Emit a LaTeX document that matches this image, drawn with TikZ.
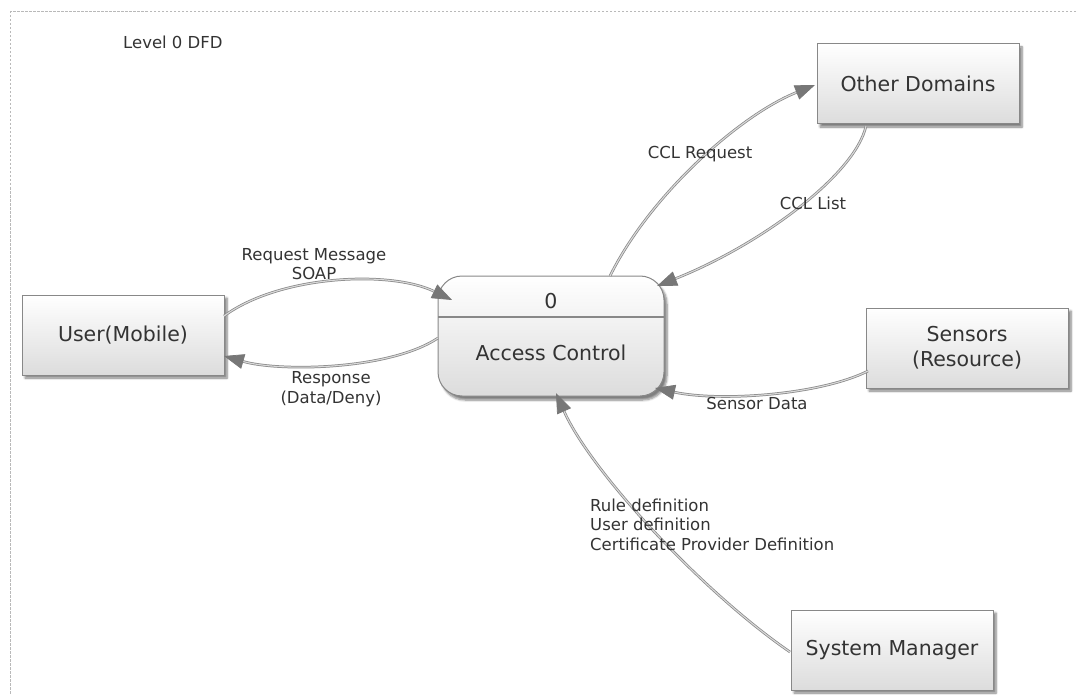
\documentclass[tikz,border=0pt]{standalone}
\usepackage{fontspec}
\setmainfont{DejaVu Sans}
\usetikzlibrary{arrows.meta,calc,shadows.blur}
\definecolor{txt}{HTML}{333333}
\definecolor{edge}{HTML}{888888}
\definecolor{tip}{HTML}{777777}
\definecolor{boxbot}{HTML}{DCDCDC}
\begin{document}
\begin{tikzpicture}[x=1pt,y=-1pt,
  entity/.style={draw=edge, line width=1pt, minimum width=202pt, minimum height=80pt,
    top color=white, bottom color=boxbot, text=txt, font=\fontsize{20.5}{25}\selectfont, align=center,
    blur shadow={shadow xshift=3pt, shadow yshift=-3pt, shadow blur steps=6, shadow opacity=50}},
  proc/.style={draw=edge, line width=1pt, rounded corners=24pt, minimum width=226pt, minimum height=120pt,
    top color=white, bottom color=boxbot,
    blur shadow={shadow xshift=3pt, shadow yshift=-4pt, shadow blur steps=6, shadow opacity=50}},
  flow/.style={draw=edge, line width=0.75pt, double=gray!30, double distance=1.1pt,
    -{Triangle[length=20pt,width=15pt,color=tip]}},
  lbl/.style={text=txt, font=\fontsize{16.5}{19.5}\selectfont, inner sep=0pt},
  ptxt/.style={text=txt, font=\fontsize{20.5}{24}\selectfont, inner sep=0pt}
]
\useasboundingbox (0,0) rectangle (1078,695);
\draw[gray!55, line width=0.8pt, dash pattern=on 2.5pt off 1.5pt] (10,11) rectangle (1100,720);

\node[lbl, anchor=west] (title) at (123,42) {Level 0 DFD};

\node[entity] (user) at (123,335) {User(Mobile)};
\node[entity] (od) at (918,84) {Other Domains};
\node[entity] (sens) at (967,348) {Sensors\\(Resource)};
\node[entity] (sm) at (892,650) {System Manager};
\node[proc] (ac) at (551,336) {};
\draw[edge, line width=1.5pt] ($(ac.center)+(-113,-19)$) -- ($(ac.center)+(113,-19)$);
\node[ptxt] (acnum) at (551,301) {0};
\node[ptxt] (acname) at (551,353) {Access Control};

% flows
\draw[flow] ($(user.center)+(101,-19)$) .. controls (280,275) and (390,270) .. ($(ac.center)+(-99,-36)$);
\draw[flow] ($(ac.center)+(-113,2)$) .. controls (390,370) and (280,372) .. ($(user.center)+(101,21)$);
\draw[flow] ($(ac.center)+(59,-60)$) .. controls (650,195) and (740,115) .. ($(od.center)+(-103,1)$);
\draw[flow] ($(od.center)+(-52,42)$) .. controls (855,175) and (760,245) .. ($(ac.center)+(106,-50)$);
\draw[flow] ($(sens.center)+(-99,23)$) .. controls (820,395) and (720,402) .. ($(ac.center)+(104,52)$);
\draw[flow] ($(sm.center)+(-102,2)$) .. controls (700,590) and (590,470) .. ($(ac.center)+(5,57)$);

% labels
\node[lbl, align=center] (lreq) at (314,264) {Request Message\\SOAP};
\node[lbl, align=center] (lresp) at (331,389) {Response\\(Data/Deny)};
\node[lbl] (lcclr) at (700,154) {CCL Request};
\node[lbl] (lccll) at (813,203) {CCL List};
\node[lbl] (lsd) at (757,403) {Sensor Data};
\node[lbl, align=left, anchor=base west] (lrule) at (590,550) {Rule definition\\User definition\\Certificate Provider Definition};
\end{tikzpicture}
\end{document}
